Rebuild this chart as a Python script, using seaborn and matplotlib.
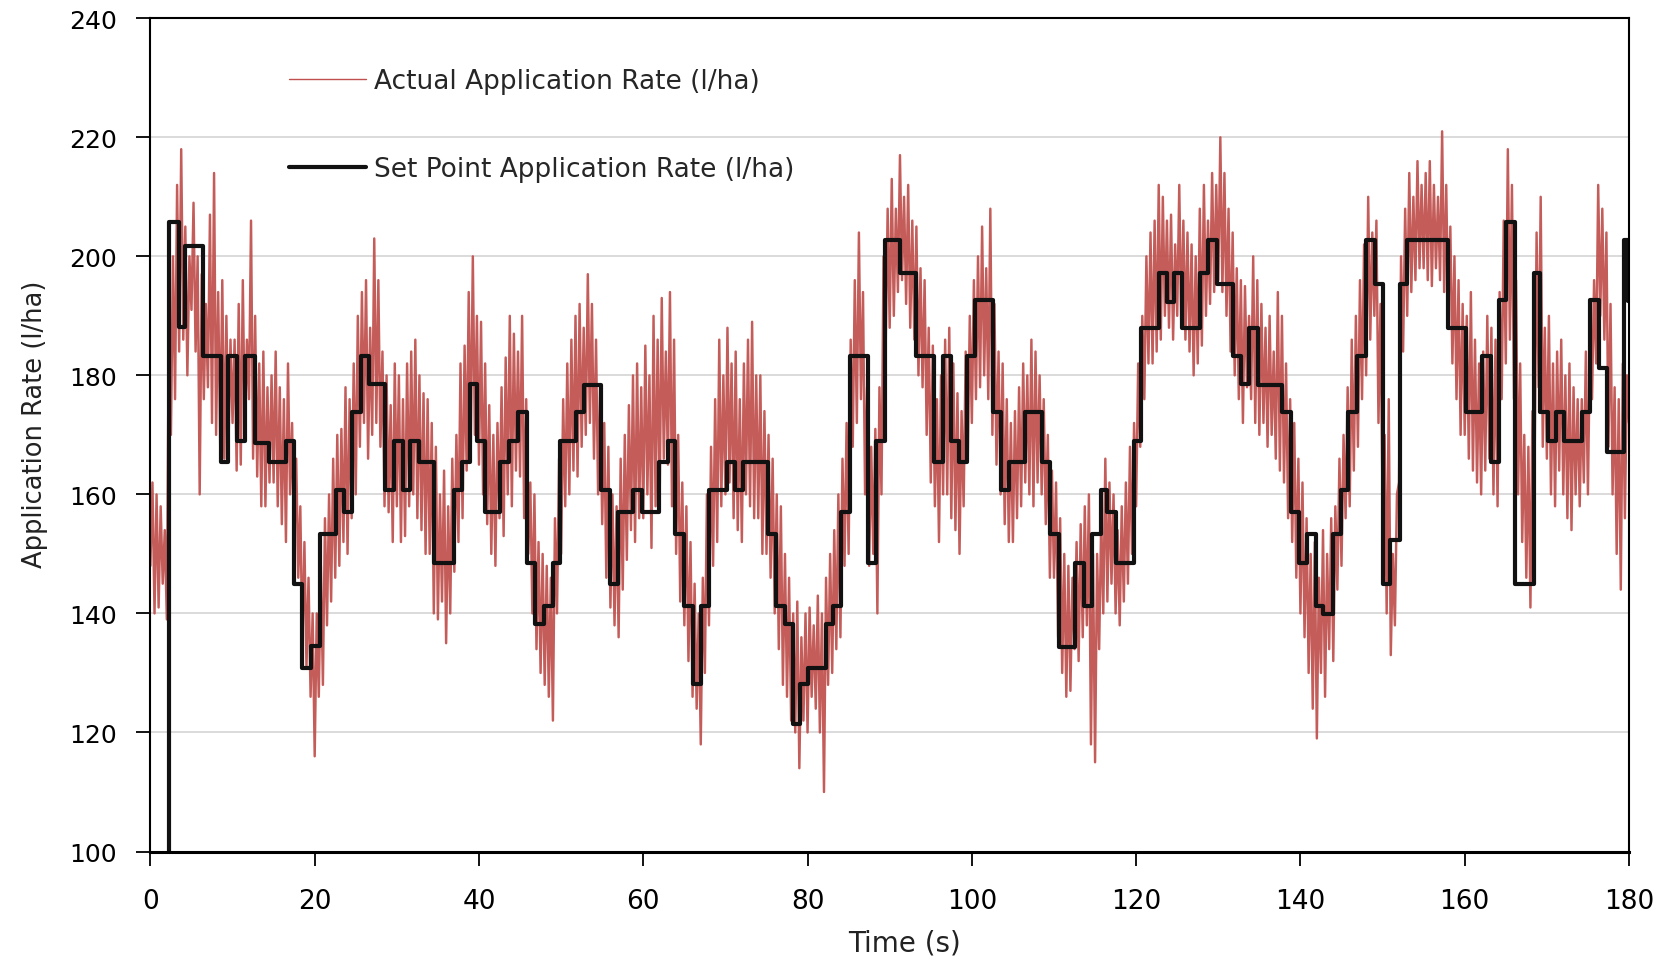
import numpy as np
import pandas as pd
import matplotlib
matplotlib.use("Agg")
import matplotlib.pyplot as plt
import seaborn as sns

# ---------------- data ----------------
# Set point application rate (step function): start time of each level and level
set_time = [2.24, 2.24, 3.46, 4.27, 6.42, 8.54, 9.43, 10.5, 11.46, 12.68, 14.43, 16.5, 17.5, 18.5, 19.5,
            20.6, 22.56, 23.6, 24.6, 25.6, 26.6, 28.6, 29.65, 30.71, 31.6, 32.74, 34.56, 36.9, 37.9,
            38.9, 39.8, 40.73, 42.6, 43.7, 44.8, 45.8, 46.8, 47.9, 48.96, 49.9, 51.8, 52.8, 54.8,
            55.9, 56.96, 58.8, 59.9, 61.95, 62.96, 63.85, 64.9, 66.0, 66.98, 68.0, 70.14, 71.15,
            72.1, 75.2, 76.15, 77.2, 78.2, 79.07, 80.1, 82.2, 83.1, 84.1, 85.15, 87.3, 88.35, 89.4,
            91.3, 93.2, 95.4, 96.5, 97.5, 98.46, 99.43, 100.4, 102.6, 103.6, 104.5, 106.45, 108.6,
            109.5, 110.6, 112.5, 113.6, 114.6, 115.7, 116.5, 117.5, 119.8, 120.65, 122.8, 123.7,
            124.6, 125.6, 127.8, 128.8, 129.8, 131.8, 132.8, 133.8, 134.85, 137.8, 138.8, 139.8,
            140.8, 141.95, 142.8, 143.98, 144.9, 145.85, 146.9, 148.0, 149.05, 150.0, 150.96, 152.1,
            153.0, 157.97, 160.1, 162.15, 163.25, 164.2, 165.07, 166.1, 168.4, 169.2, 170.1, 171.15,
            172.05, 174.3, 175.3, 176.35, 177.3, 179.35, 179.9, 180.0]
set_level = [100, 205.7, 188.1, 201.8, 183.3, 165.5, 183.3, 169.0, 183.3, 168.6, 165.5, 169.0, 144.9, 130.9, 134.6,
             153.4, 160.7, 157.0, 173.8, 183.3, 178.6, 160.7, 169.0, 160.7, 169.0, 165.5, 148.4, 160.7, 165.5,
             178.6, 169.0, 157.0, 165.5, 169.0, 173.8, 148.4, 138.3, 141.2, 148.4, 169.0, 173.8, 178.4, 160.7,
             144.9, 157.0, 160.7, 157.0, 165.5, 169.0, 153.4, 141.2, 128.2, 141.2, 160.7, 165.5, 160.7,
             165.5, 153.4, 141.2, 138.3, 121.5, 128.2, 130.9, 138.3, 141.2, 157.0, 183.3, 148.4, 169.0, 202.7,
             197.2, 183.3, 165.5, 183.3, 169.0, 165.5, 183.3, 192.7, 173.8, 160.7, 165.5, 173.8, 165.5,
             153.4, 134.3, 148.4, 141.2, 153.4, 160.7, 157.0, 148.4, 169.0, 187.9, 197.2, 192.4,
             197.2, 187.9, 197.2, 202.7, 195.4, 183.3, 178.6, 187.9, 178.4, 173.8, 157.0, 148.4,
             153.4, 141.2, 139.9, 153.4, 160.7, 173.8, 183.3, 202.7, 195.4, 144.9, 152.4, 195.4,
             202.7, 187.9, 173.8, 183.3, 165.5, 192.7, 205.7, 144.9, 197.2, 173.8, 169.0, 173.8,
             169.0, 173.8, 192.7, 181.3, 167.2, 202.7, 192.5, 192.5]

# Actual application rate: troughs read every 0.5 s (0, 0.5, ..., 180 s)
actual_low = [
    148, 140, 141, 145, 139, 170, 176, 184, 186, 180,
    191, 184, 160, 176, 178, 172, 170, 168, 166, 168,
    172, 164, 165, 170, 176, 166, 163, 158, 158, 162,
    162, 158, 155, 152, 160, 150, 146, 134, 131, 126,
    116, 126, 128, 138, 142, 146, 148, 152, 150, 156,
    160, 168, 172, 166, 170, 172, 168, 158, 157, 152,
    158, 152, 153, 158, 160, 156, 154, 150, 150, 140,
    139, 142, 135, 140, 147, 152, 156, 164, 168, 170,
    165, 160, 155, 150, 148, 156, 153, 160, 158, 164,
    163, 156, 150, 140, 134, 130, 128, 126, 122, 140,
    150, 158, 160, 164, 163, 168, 170, 172, 166, 160,
    155, 146, 141, 138, 136, 144, 149, 154, 152, 156,
    156, 160, 151, 158, 160, 166, 165, 158, 150, 142,
    138, 132, 126, 124, 118, 130, 138, 148, 152, 158,
    160, 162, 156, 154, 152, 160, 158, 156, 156, 150,
    150, 146, 140, 134, 128, 126, 122, 120, 114, 122,
    120, 126, 124, 120, 110, 128, 130, 134, 136, 148,
    150, 168, 172, 176, 160, 148, 150, 140, 160, 184,
    188, 190, 194, 196, 192, 188, 186, 180, 178, 170,
    162, 158, 152, 160, 160, 156, 154, 150, 158, 166,
    172, 176, 178, 180, 176, 170, 165, 160, 155, 152,
    152, 156, 158, 162, 160, 158, 162, 160, 155, 146,
    146, 136, 130, 126, 127, 134, 132, 136, 138, 118,
    115, 134, 140, 142, 145, 140, 138, 142, 145, 150,
    158, 168, 176, 182, 182, 184, 186, 190, 188, 186,
    190, 188, 186, 184, 180, 182, 185, 190, 192, 194,
    196, 194, 190, 184, 180, 176, 172, 178, 176, 172,
    170, 172, 168, 170, 166, 164, 162, 156, 152, 146,
    140, 136, 130, 124, 119, 130, 126, 134, 132, 144,
    148, 156, 158, 164, 168, 176, 180, 186, 190, 172,
    158, 140, 133, 138, 162, 184, 190, 194, 196, 198,
    198, 196, 195, 198, 196, 194, 190, 182, 176, 170,
    170, 166, 164, 162, 160, 164, 166, 160, 158, 176,
    182, 186, 176, 160, 152, 146, 141, 164, 178, 168,
    166, 160, 158, 164, 160, 156, 154, 160, 158, 162,
    160, 176, 182, 190, 186, 168, 160, 150, 144, 156,
    172]

# Actual application rate: peaks read every 0.5 s, offset by 0.25 s (0.25, 0.75, ..., 179.75 s)
actual_high = [
    162, 160, 158, 154, 190, 200, 212, 218, 205, 200,
    209, 200, 197, 192, 207, 214, 194, 196, 190, 186,
    186, 192, 196, 186, 206, 190, 182, 184, 178, 180,
    184, 178, 176, 182, 172, 166, 158, 152, 146, 140,
    140, 148, 156, 160, 166, 170, 171, 178, 176, 182,
    190, 194, 196, 188, 203, 196, 184, 180, 175, 182,
    180, 176, 182, 184, 186, 180, 177, 176, 172, 168,
    160, 164, 158, 166, 170, 182, 185, 194, 200, 190,
    189, 182, 175, 170, 172, 178, 183, 190, 187, 184,
    190, 176, 162, 160, 152, 150, 148, 146, 156, 166,
    176, 182, 186, 190, 192, 188, 197, 192, 186, 178,
    172, 168, 160, 158, 166, 170, 175, 180, 182, 178,
    185, 180, 190, 186, 193, 184, 194, 186, 170, 162,
    158, 152, 145, 140, 146, 160, 168, 176, 186, 180,
    188, 182, 184, 176, 182, 186, 189, 180, 180, 174,
    170, 166, 160, 158, 150, 146, 140, 142, 136, 140,
    141, 138, 143, 140, 146, 150, 154, 160, 166, 172,
    186, 196, 204, 194, 178, 168, 171, 178, 200, 208,
    213, 208, 217, 210, 212, 206, 205, 198, 196, 188,
    185, 176, 180, 186, 188, 182, 177, 174, 184, 190,
    196, 200, 205, 198, 208, 192, 184, 182, 176, 172,
    174, 178, 182, 180, 186, 184, 180, 176, 170, 164,
    162, 156, 150, 148, 146, 152, 155, 158, 160, 150,
    150, 156, 166, 162, 160, 154, 158, 162, 168, 172,
    182, 190, 200, 204, 206, 212, 210, 206, 207, 202,
    212, 206, 204, 202, 200, 208, 212, 206, 214, 212,
    220, 214, 208, 204, 198, 196, 195, 190, 200, 196,
    192, 188, 190, 184, 194, 190, 182, 176, 172, 166,
    162, 156, 150, 152, 146, 154, 150, 156, 158, 166,
    170, 178, 186, 190, 196, 202, 210, 204, 206, 192,
    170, 176, 150, 160, 200, 208, 214, 210, 216, 212,
    214, 216, 212, 210, 221, 212, 205, 200, 196, 192,
    190, 194, 186, 182, 184, 190, 188, 186, 194, 206,
    218, 212, 196, 182, 170, 168, 174, 204, 210, 188,
    190, 182, 184, 186, 180, 182, 178, 176, 176, 184,
    186, 196, 212, 208, 204, 192, 178, 176, 182, 180]

sample_step = 0.5
t_low = np.arange(len(actual_low)) * sample_step
t_high = np.arange(len(actual_high)) * sample_step + sample_step / 2

x_ticks = list(range(0, 181, 20))
y_ticks = list(range(100, 241, 20))
label_actual = "Actual Application Rate (l/ha)"
label_set = "Set Point Application Rate (l/ha)"

# ---------------- plot ----------------
sns.set_theme(style="white")
plt.rcParams["font.family"] = ["DejaVu Sans"]

fig = plt.figure(figsize=(16.73, 9.62), dpi=100)
ax = fig.add_axes([0.0899, 0.1138, 0.8838, 0.8662])

df_act = pd.DataFrame({"t": np.concatenate([t_low, t_high]),
                       "v": actual_low + actual_high}).sort_values("t")
df_set = pd.DataFrame({"t": set_time, "v": set_level})

sns.lineplot(data=df_act, x="t", y="v", ax=ax, color="#C0504D", lw=1.75, alpha=0.93,
             estimator=None, sort=False, label=label_actual)
sns.lineplot(data=df_set, x="t", y="v", ax=ax, color="#111111", lw=3.0,
             drawstyle="steps-post", estimator=None, sort=False, label=label_set)

ax.set_xlim(0, 180)
ax.set_ylim(100, 240)
ax.set_xticks(x_ticks)
ax.set_yticks(y_ticks)
ax.yaxis.grid(True, color="#d4d4d4", lw=1.2)
ax.xaxis.grid(False)
ax.set_axisbelow(True)

for s in ax.spines.values():
    s.set_color("black")
    s.set_linewidth(1.5)
ax.spines["bottom"].set_linewidth(2.2)

ax.tick_params(axis="both", which="major", direction="out", length=10, width=1.3,
               colors="black", bottom=True, left=True)
ax.tick_params(axis="x", labelsize=19, pad=16)
ax.tick_params(axis="y", labelsize=18, pad=14)

ax.set_xlabel("Time (s)", fontsize=20, color="#222222")
ax.set_ylabel("Application Rate (l/ha)", fontsize=18.5, color="#222222")
ax.xaxis.set_label_coords(0.51, -0.092)
ax.yaxis.set_label_coords(-0.069, 0.514)

leg = ax.legend(loc="upper left", bbox_to_anchor=(0.094, 0.94), frameon=False,
                fontsize=19, handlelength=2.9, labelspacing=2.35, handletextpad=0.3,
                borderpad=0, borderaxespad=0)
leg.get_lines()[0].set_linewidth(1.0)
leg.get_lines()[0].set_alpha(1.0)

fig.savefig("out.png", dpi=100)
